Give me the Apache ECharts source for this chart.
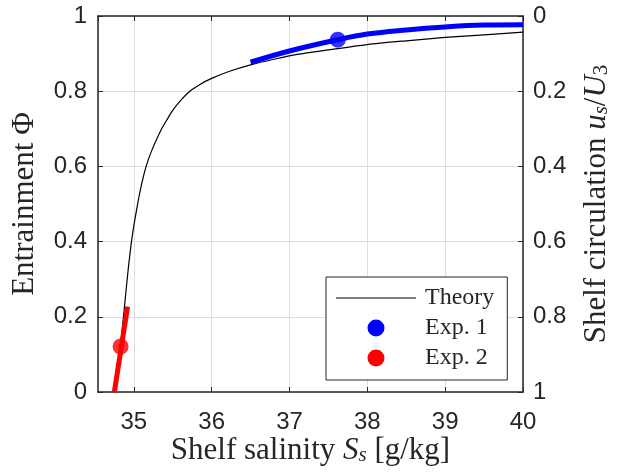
<!DOCTYPE html>
<html><head><meta charset="utf-8">
<script src="https://cdn.jsdelivr.net/npm/echarts@6/dist/echarts.min.js"></script>
<style>html,body{margin:0;padding:0;background:#fff}#c{width:620px;height:474px}</style>
</head><body><div id="c"></div>
<script>
// Theory curve (Entrainment vs shelf salinity)
const theoryX = [34.77, 34.885, 34.91, 34.93, 34.95, 34.97, 35.00, 35.03, 35.06, 35.09, 35.12, 35.15, 35.19, 35.23, 35.28, 35.35, 35.42, 35.50, 35.60, 35.72, 35.85, 36.00, 36.23, 36.50, 36.80, 37.10, 37.50, 38.00, 38.50, 39.00, 39.50, 40.00];
const theoryY = [0.0, 0.237, 0.290, 0.330, 0.366, 0.400, 0.442, 0.478, 0.512, 0.543, 0.570, 0.594, 0.620, 0.642, 0.666, 0.697, 0.722, 0.749, 0.775, 0.800, 0.818, 0.834, 0.853, 0.870, 0.885, 0.898, 0.910, 0.924, 0.934, 0.943, 0.950, 0.957];
// Exp. 1 range and point
const exp1X = [36.5, 37.0, 37.62, 38.0, 38.5, 39.0, 39.5, 40.0];
const exp1Y = [0.877, 0.907, 0.937, 0.952, 0.963, 0.971, 0.976, 0.977];
const exp1Point = [37.62, 0.937];
// Exp. 2 range and point
const exp2X = [34.75, 34.92];
const exp2Y = [0.0, 0.227];
const exp2Point = [34.83, 0.121];
// Axis settings
const xMin = 34.54, xMax = 40;

const pair = (xs, ys) => xs.map((x, i) => [x, ys[i]]);
const serif = '"Liberation Serif", "Times New Roman", serif';
const sans = '"Liberation Sans", Arial, Helvetica, sans-serif';
const ink = '#262626';
const grid = '#dedede';

const subRich = {
  i: {fontFamily: serif, fontStyle: 'italic', fontSize: 31, color: ink},
  s: {fontFamily: serif, fontStyle: 'italic', fontSize: 21, color: ink, verticalAlign: 'bottom', lineHeight: 10},
  n: {fontFamily: serif, fontSize: 21, color: ink, verticalAlign: 'bottom', lineHeight: 10}
};
const nameStyle = {fontFamily: serif, fontSize: 31, color: ink, rich: subRich};

const chart = echarts.init(document.getElementById('c'));
chart.setOption({
  animation: false,
  backgroundColor: '#fff',
  grid: {left: 98, right: 97, top: 16, bottom: 82, containLabel: false, outerBoundsMode: 'none'},
  xAxis: [{
    type: 'value', min: xMin, max: xMax, minInterval: 1, maxInterval: 1, position: 'bottom',
    axisLine: {lineStyle: {color: ink, width: 1.5}},
    axisTick: {inside: true, length: 5, lineStyle: {color: ink}},
    axisLabel: {showMinLabel: false, fontFamily: sans, fontSize: 24, color: ink, margin: 18},
    splitLine: {show: true, lineStyle: {color: grid, width: 1}},
    name: 'Shelf salinity {i|S}{s|s} [g/kg]', nameLocation: 'middle', nameGap: 43, nameMoveOverlap: false,
    nameTextStyle: nameStyle
  }, {
    type: 'value', min: xMin, max: xMax, minInterval: 1, maxInterval: 1, position: 'top',
    axisLine: {lineStyle: {color: ink, width: 1.5}},
    axisTick: {inside: true, length: 5, lineStyle: {color: ink}},
    axisLabel: {show: false}, splitLine: {show: false}
  }],
  yAxis: [{
    type: 'value', min: 0, max: 1, interval: 0.2, position: 'left',
    axisLine: {show: true, lineStyle: {color: ink, width: 1.5}},
    axisTick: {show: true, inside: true, length: 5, lineStyle: {color: ink}},
    axisLabel: {fontFamily: sans, fontSize: 24, color: ink, margin: 11},
    splitLine: {show: true, lineStyle: {color: grid, width: 1}},
    name: 'Entrainment \u03A6', nameLocation: 'middle', nameGap: 58, nameRotate: 90, nameMoveOverlap: false,
    nameTextStyle: nameStyle
  }, {
    type: 'value', min: 0, max: 1, interval: 0.2, position: 'right', inverse: true,
    axisLine: {show: true, lineStyle: {color: ink, width: 1.5}},
    axisTick: {show: true, inside: true, length: 5, lineStyle: {color: ink}},
    axisLabel: {fontFamily: sans, fontSize: 24, color: ink, margin: 10},
    splitLine: {show: false},
    name: 'Shelf circulation {i|u}{s|s}/{i|U}{n|3}', nameLocation: 'middle', nameGap: 58, nameRotate: 90, nameMoveOverlap: false,
    nameTextStyle: nameStyle
  }],
  legend: {
    left: 326, top: 277, orient: 'vertical', selectedMode: false,
    itemWidth: 80, itemHeight: 17, itemGap: 6,
    padding: [9, 13, 10, 10],
    backgroundColor: '#fff', borderColor: ink, borderWidth: 1,
    textStyle: {fontFamily: serif, fontSize: 24, color: ink, padding: [0, 0, 0, 4]},
    data: [
      {name: 'Theory', icon: 'path://M0,0L80,0L80,1.2L0,1.2Z', itemStyle: {color: '#000'}},
      {name: 'Exp. 1', icon: 'circle'},
      {name: 'Exp. 2', icon: 'circle'}
    ]
  },
  series: [{
    name: 'Theory', type: 'line', data: pair(theoryX, theoryY), symbol: 'none',
    smooth: 0.25, lineStyle: {color: '#000', width: 1.2}, itemStyle: {color: '#000'}, z: 2
  }, {
    name: 'Exp. 1', type: 'line', data: pair(exp1X, exp1Y), symbol: 'none',
    smooth: 0.4, lineStyle: {color: '#0000ff', width: 5}, itemStyle: {color: '#0000ff'}, z: 3
  }, {
    name: 'Exp. 1', type: 'scatter', data: [exp1Point], symbol: 'circle', symbolSize: 16,
    itemStyle: {color: '#0000ff'}, z: 4
  }, {
    name: 'Exp. 2', type: 'line', data: pair(exp2X, exp2Y), symbol: 'none',
    lineStyle: {color: '#ff0000', width: 5}, itemStyle: {color: '#ff0000'}, z: 3
  }, {
    name: 'Exp. 2', type: 'scatter', data: [exp2Point], symbol: 'circle', symbolSize: 16,
    itemStyle: {color: '#ff0000'}, z: 4
  }]
});
</script>
</body></html>
